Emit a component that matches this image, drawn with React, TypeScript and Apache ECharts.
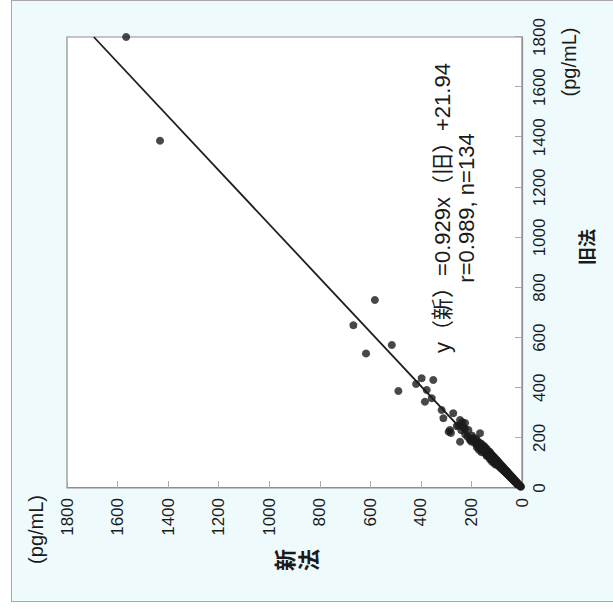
import React, { useEffect, useRef } from "react";
import * as echarts from "echarts";

// 旧法 (x) and 新法 (y), pg/mL
const oldMethod = [
  1800, 1386, 750, 650, 537, 571, 387, 438, 415, 431, 391, 344, 358, 311, 278, 298, 231, 225, 220, 271, 262, 259, 185, 231, 219, 192,
  250, 242, 246, 236, 210, 205, 200, 198, 195, 190,
  188, 182, 180, 178, 175, 172, 170, 168, 165, 163,
  160, 158, 155, 153, 150, 148, 146, 145, 142, 140,
  138, 136, 135, 132, 130, 128, 126, 125, 122, 120,
  118, 116, 115, 112, 110, 108, 106, 105, 102, 100,
  98, 96, 95, 92, 90, 88, 86, 85, 82, 80,
  78, 76, 75, 72, 70, 68, 66, 65, 62, 60,
  58, 56, 55, 52, 50, 48, 46, 45, 42, 40,
  38, 36, 35, 32, 30, 28, 26, 25, 22, 20,
  18, 16, 15, 12, 10, 8, 6, 5,
  230, 215, 185, 162, 152, 143, 128, 114, 104, 94,
];
const newMethod = [
  1566, 1432, 582, 667, 617, 515, 489, 397, 419, 351, 377, 384, 357, 318, 311, 272, 285, 290, 281, 245, 236, 225, 245, 212, 166, 206,
  252, 232, 258, 226, 198, 216, 194, 182, 204, 178,
  193, 170, 186, 162, 181, 158, 176, 150, 170, 148,
  166, 141, 162, 138, 157, 136, 150, 128, 147, 126,
  144, 122, 140, 120, 136, 115, 131, 112, 128, 108,
  124, 104, 119, 100, 116, 97, 111, 94, 107, 90,
  103, 86, 99, 83, 95, 79, 90, 76, 86, 72,
  82, 68, 78, 65, 74, 61, 69, 58, 65, 54,
  61, 50, 57, 47, 53, 43, 48, 40, 44, 36,
  40, 32, 37, 29, 32, 25, 27, 22, 23, 18,
  19, 14, 16, 11, 10, 7, 6, 4,
  240, 225, 200, 178, 170, 160, 140, 126, 118, 106,
];
// regression line endpoints (旧法, 新法)
const fitOld = [0, 1800];
const fitNew = [22, 1694];

const axisMin = 0;
const axisMax = 1800;
const axisStep = 200;

const equationLines = ["y（新）=0.929x（旧）+21.94", "r=0.989, n=134"];
const xName = "旧法";
const yName = "新法";
const unitText = "(pg/mL)";

const tickFont = "'Liberation Sans', Arial, sans-serif";
const textFont = "'Liberation Sans', Arial, 'Noto Sans CJK JP', sans-serif";
const cjkFont = "'Noto Sans CJK JP', sans-serif";

export default function App() {
  const ref = useRef<HTMLDivElement>(null);
  useEffect(() => {
    document.body.style.margin = "0";
    const chart = echarts.init(ref.current!, null, { renderer: "svg", width: 609, height: 613 });
    const points = oldMethod.map((o, i) => [o, newMethod[i]]);
    const fit = fitOld.map((o, i) => [o, fitNew[i]]);
    const gray = "#8e8e8e";
    const plain = (v: number) => String(v);
    chart.setOption({
      animation: false,
      backgroundColor: "transparent",
      grid: {
        left: 121,
        top: 67,
        width: 451,
        height: 455,
        show: true,
        backgroundColor: "#ffffff",
        borderColor: gray,
        borderWidth: 1.2,
      },
      xAxis: {
        type: "value",
        min: axisMin,
        max: axisMax,
        interval: axisStep,
        axisLine: { show: true, lineStyle: { color: gray, width: 1.2 } },
        axisTick: { show: true, inside: true, length: 7, lineStyle: { color: "#aaaaaa", width: 1 } },
        axisLabel: { fontSize: 17, color: "#1a1a1a", margin: 9, fontFamily: tickFont, formatter: plain },
        splitLine: { show: false },
      },
      yAxis: {
        type: "value",
        min: axisMin,
        max: axisMax,
        interval: axisStep,
        axisLine: { show: true, lineStyle: { color: gray, width: 1.2 } },
        axisTick: { show: true, inside: true, length: 7, lineStyle: { color: "#aaaaaa", width: 1 } },
        axisLabel: { fontSize: 17, color: "#1a1a1a", margin: 10, fontFamily: tickFont, formatter: plain },
        splitLine: { show: false },
      },
      graphic: [
        {
          type: "text",
          x: 401,
          y: 442,
          style: { text: equationLines[0], fontSize: 22, fill: "#1a1a1a", align: "center", verticalAlign: "middle", fontFamily: textFont },
        },
        {
          type: "text",
          x: 401,
          y: 466,
          style: { text: equationLines[1], fontSize: 22, fill: "#1a1a1a", align: "center", verticalAlign: "middle", fontFamily: textFont },
        },
        {
          type: "text",
          x: 547,
          y: 569,
          style: { text: unitText, fontSize: 20, fill: "#1a1a1a", align: "center", verticalAlign: "middle", fontFamily: textFont },
        },
        {
          type: "text",
          x: 114,
          y: 36,
          style: { text: unitText, fontSize: 20, fill: "#1a1a1a", align: "right", verticalAlign: "middle", fontFamily: textFont },
        },
        {
          type: "text",
          x: 362,
          y: 586,
          style: { text: xName, fontSize: 18, fontWeight: "bold", fill: "#1a1a1a", align: "center", verticalAlign: "middle", fontFamily: cjkFont },
        },
        {
          type: "text",
          x: 49,
          y: 295,
          style: { text: yName.split("").join("\n"), fontSize: 22, lineHeight: 24, fontWeight: "bold", fill: "#1a1a1a", align: "center", verticalAlign: "middle", fontFamily: cjkFont },
        },
      ],
      series: [
        {
          type: "line",
          data: fit,
          symbol: "none",
          lineStyle: { color: "#1e1e1e", width: 1.8 },
          z: 3,
        },
        {
          type: "scatter",
          data: points,
          symbolSize: 8,
          itemStyle: { color: "#1a1a1a" },
          z: 4,
        },
      ],
    });
    return () => chart.dispose();
  }, []);
  return (
    <div style={{ position: "fixed", left: 0, top: 0, width: 613, height: 609, overflow: "hidden", background: "#ffffff" }}>
      <div
        style={{
          position: "absolute",
          left: 11,
          top: 0,
          width: 610,
          height: 602,
          background: "#effafc",
          border: "1px solid #a8a8a8",
          boxSizing: "border-box",
        }}
      />
      <div
        ref={ref}
        style={{
          position: "absolute",
          left: 0,
          top: 0,
          width: 609,
          height: 613,
          transformOrigin: "0 0",
          transform: "translate(0px, 609px) rotate(-90deg)",
        }}
      />
    </div>
  );
}
